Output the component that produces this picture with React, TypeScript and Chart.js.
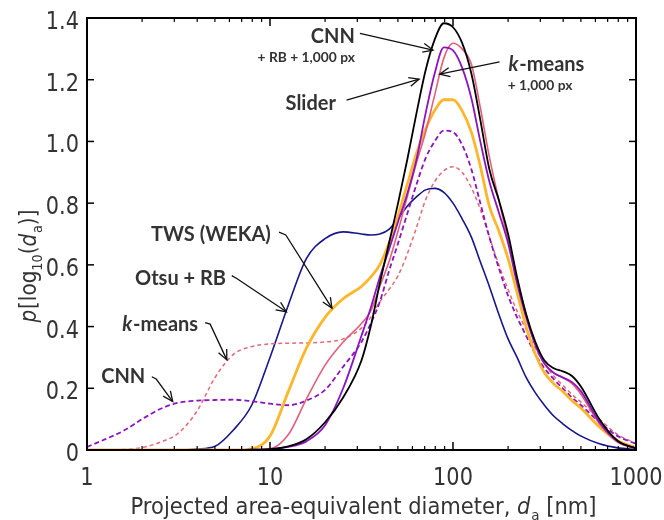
import React, { useEffect, useRef } from 'react';
import { Chart, registerables } from 'chart.js';
Chart.register(...registerables);

// Projected area-equivalent diameter grid [nm]
const diameters = [1, 1.26, 1.58, 2.0, 2.51, 3.16, 3.98, 5.01, 6.31, 7.94, 10, 12.6, 15.8, 20.0, 25.1, 31.6, 35.5, 39.8, 44.7, 50.1, 56.2, 63.1, 70.8, 79.4, 89.1, 100, 112, 126, 141, 158, 178, 200, 224, 251, 282, 316, 355, 398, 447, 501, 631, 794, 1000];

const slider = [0, 0, 0, 0, 0, 0, 0, 0, 0, 0.001, 0.003, 0.012, 0.035, 0.09, 0.17, 0.29, 0.40, 0.54, 0.67, 0.80, 0.94, 1.09, 1.23, 1.33, 1.383, 1.37, 1.32, 1.22, 1.07, 0.91, 0.81, 0.70, 0.56, 0.44, 0.35, 0.29, 0.265, 0.255, 0.24, 0.205, 0.10, 0.03, 0.005];
const cnnRb1000 = [0, 0, 0, 0, 0, 0, 0, 0, 0, 0.001, 0.003, 0.01, 0.028, 0.08, 0.20, 0.37, 0.46, 0.56, 0.65, 0.74, 0.83, 0.94, 1.09, 1.22, 1.305, 1.295, 1.24, 1.14, 1.0, 0.87, 0.77, 0.67, 0.54, 0.43, 0.34, 0.28, 0.25, 0.235, 0.22, 0.19, 0.09, 0.028, 0.005];
const kmeans1000 = [0, 0, 0, 0, 0, 0, 0, 0, 0, 0.001, 0.004, 0.05, 0.165, 0.275, 0.35, 0.41, 0.45, 0.53, 0.61, 0.71, 0.82, 0.93, 1.03, 1.15, 1.27, 1.318, 1.30, 1.25, 1.11, 0.95, 0.81, 0.68, 0.55, 0.44, 0.34, 0.28, 0.25, 0.235, 0.215, 0.18, 0.085, 0.025, 0.006];
const twsWeka = [0, 0, 0, 0, 0, 0, 0, 0, 0, 0.004, 0.045, 0.19, 0.33, 0.43, 0.49, 0.53, 0.56, 0.60, 0.67, 0.76, 0.86, 0.96, 1.04, 1.10, 1.135, 1.135, 1.10, 1.03, 0.92, 0.79, 0.71, 0.62, 0.51, 0.40, 0.31, 0.25, 0.215, 0.19, 0.16, 0.135, 0.075, 0.03, 0.008];
const cnn = [0.01, 0.035, 0.062, 0.10, 0.133, 0.153, 0.16, 0.162, 0.163, 0.158, 0.15, 0.145, 0.16, 0.195, 0.27, 0.35, 0.41, 0.48, 0.58, 0.67, 0.765, 0.86, 0.945, 1.0, 1.035, 1.03, 0.99, 0.91, 0.80, 0.69, 0.59, 0.50, 0.43, 0.37, 0.31, 0.265, 0.23, 0.20, 0.17, 0.145, 0.09, 0.045, 0.02];
const kmeans = [0, 0, 0.002, 0.008, 0.025, 0.055, 0.125, 0.235, 0.31, 0.335, 0.344, 0.346, 0.347, 0.35, 0.36, 0.395, 0.43, 0.48, 0.52, 0.565, 0.635, 0.72, 0.81, 0.87, 0.905, 0.918, 0.90, 0.85, 0.78, 0.69, 0.60, 0.52, 0.45, 0.39, 0.33, 0.28, 0.24, 0.21, 0.18, 0.155, 0.10, 0.05, 0.022];
const otsuRb = [0, 0, 0, 0, 0, 0, 0.003, 0.012, 0.065, 0.145, 0.30, 0.47, 0.62, 0.685, 0.707, 0.70, 0.697, 0.70, 0.715, 0.75, 0.79, 0.82, 0.843, 0.848, 0.835, 0.80, 0.75, 0.69, 0.61, 0.53, 0.44, 0.36, 0.30, 0.235, 0.185, 0.145, 0.11, 0.085, 0.063, 0.045, 0.02, 0.007, 0.002];

const xMajorTicks = [1, 10, 100, 1000];
const xTickLabels = ['1', '10', '100', '1000'];
const xMinorTicks = [2, 3, 4, 5, 6, 7, 8, 9, 20, 30, 40, 50, 60, 70, 80, 90, 200, 300, 400, 500, 600, 700, 800, 900];
const yTicks = [0, 0.2, 0.4, 0.6, 0.8, 1.0, 1.2, 1.4];
const yTickLabels = ['0', '0.2', '0.4', '0.6', '0.8', '1.0', '1.2', '1.4'];

const ANN_FONT = 'Lato, "Open Sans", sans-serif';
const AXIS_FONT = '"DejaVu Sans", sans-serif';
const TEXT = '#333333';
const SQUEEZE = 0.87;

type Seg = { t: string; it?: boolean; sub?: boolean };

// annotation labels in data coordinates (d [nm], p)
const labels: { segs: Seg[]; d: number; p: number; size: number; align: 'left' | 'right' | 'center' }[] = [
  { segs: [{ t: 'CNN' }], d: 29.1, p: 1.319, size: 20, align: 'right' },
  { segs: [{ t: '+ RB + 1,000 px' }], d: 29.1, p: 1.257, size: 13.8, align: 'right' },
  { segs: [{ t: 'Slider' }], d: 16.7, p: 1.102, size: 20, align: 'center' },
  { segs: [{ t: 'k', it: true }, { t: '-means' }], d: 201, p: 1.228, size: 20, align: 'left' },
  { segs: [{ t: '+ 1,000 px' }], d: 199, p: 1.167, size: 13.8, align: 'left' },
  { segs: [{ t: 'TWS (WEKA)' }], d: 10.1, p: 0.677, size: 20, align: 'right' },
  { segs: [{ t: 'Otsu + RB' }], d: 5.75, p: 0.535, size: 20, align: 'right' },
  { segs: [{ t: 'k', it: true }, { t: '-means' }], d: 4.05, p: 0.386, size: 20, align: 'right' },
  { segs: [{ t: 'CNN' }], d: 2.08, p: 0.217, size: 20, align: 'right' },
];

const arrows: [number, number][][] = [
  [[31.0, 1.35], [77.8, 1.296]],
  [[26.2, 1.134], [65.3, 1.202]],
  [[179.8, 1.258], [84.6, 1.218]],
  [[11.2, 0.706], [12.2, 0.697], [21.8, 0.46]],
  [[6.18, 0.565], [6.58, 0.556], [12.3, 0.448]],
  [[4.42, 0.413], [4.71, 0.408], [5.81, 0.292]],
  [[2.26, 0.2375], [2.39, 0.23], [2.94, 0.157]],
];

function fontFor(family: string, size: number, it: boolean, bold: boolean) {
  return `${it ? 'italic ' : ''}${bold ? 'bold ' : ''}${size}px ${family}`;
}

function drawRich(
  ctx: CanvasRenderingContext2D,
  segs: Seg[],
  x: number,
  y: number,
  size: number,
  align: string,
  bold: boolean,
  family: string,
  sx = 1,
  targetWidth = 0
) {
  const subSize = size * 0.64;
  let total = 0;
  const widths = segs.map((s) => {
    ctx.font = fontFor(family, s.sub ? subSize : size, !!s.it, bold);
    const w = ctx.measureText(s.t).width + (s.it ? size * 0.04 : 0);
    total += w;
    return w;
  });
  const scale = targetWidth > 0 ? targetWidth / total : sx;
  const tw = total * scale;
  const start = align === 'left' ? x : align === 'right' ? x - tw : x - tw / 2;
  ctx.save();
  ctx.translate(start, y);
  ctx.scale(scale, 1);
  ctx.textAlign = 'left';
  ctx.textBaseline = 'alphabetic';
  let cx = 0;
  segs.forEach((s, i) => {
    ctx.font = fontFor(family, s.sub ? subSize : size, !!s.it, bold);
    ctx.fillText(s.t, cx, s.sub ? size * 0.27 : 0);
    cx += widths[i];
  });
  ctx.restore();
}

const overlay = {
  id: 'overlay',
  afterDraw(chart: any) {
    const { ctx, chartArea: a, scales } = chart;
    const xs = scales.x;
    const ys = scales.y;
    ctx.save();
    ctx.strokeStyle = '#000';
    ctx.lineWidth = 1.5;
    const line = (x1: number, y1: number, x2: number, y2: number) => {
      ctx.beginPath();
      ctx.moveTo(x1, y1);
      ctx.lineTo(x2, y2);
      ctx.stroke();
    };
    for (const v of yTicks) {
      const y = ys.getPixelForValue(v);
      line(a.left, y, a.left + 7, y);
      line(a.right, y, a.right - 7, y);
    }
    for (const v of xMajorTicks) {
      const x = xs.getPixelForValue(v);
      line(x, a.bottom, x, a.bottom - 8);
      line(x, a.top, x, a.top + 8);
    }
    ctx.lineWidth = 1.2;
    for (const v of xMinorTicks) {
      const x = xs.getPixelForValue(v);
      line(x, a.bottom, x, a.bottom - 4);
      line(x, a.top, x, a.top + 4);
    }
    ctx.lineWidth = 2;
    ctx.strokeRect(a.left, a.top, a.right - a.left, a.bottom - a.top);

    // tick labels
    ctx.fillStyle = TEXT;
    yTicks.forEach((v, i) => {
      drawRich(ctx, [{ t: yTickLabels[i] }], a.left - 8, ys.getPixelForValue(v) + 11, 24, 'right', false, AXIS_FONT, SQUEEZE);
    });
    xMajorTicks.forEach((v, i) => {
      drawRich(ctx, [{ t: xTickLabels[i] }], xs.getPixelForValue(v), a.bottom + 35, 24, 'center', false, AXIS_FONT, SQUEEZE);
    });

    // annotations
    for (const l of labels) {
      drawRich(ctx, l.segs, xs.getPixelForValue(l.d), ys.getPixelForValue(l.p), l.size, l.align, true, ANN_FONT);
    }
    ctx.strokeStyle = '#111';
    ctx.lineWidth = 1.3;
    for (const arr of arrows) {
      const pts = arr.map(([d, p]) => [xs.getPixelForValue(d), ys.getPixelForValue(p)]);
      ctx.beginPath();
      pts.forEach(([x, y], i) => (i === 0 ? ctx.moveTo(x, y) : ctx.lineTo(x, y)));
      ctx.stroke();
      const [x2, y2] = pts[pts.length - 1];
      const [x1, y1] = pts[pts.length - 2];
      const ang = Math.atan2(y2 - y1, x2 - x1);
      const L = 11;
      const spread = 0.42;
      ctx.beginPath();
      ctx.moveTo(x2 - L * Math.cos(ang - spread), y2 - L * Math.sin(ang - spread));
      ctx.lineTo(x2, y2);
      ctx.lineTo(x2 - L * Math.cos(ang + spread), y2 - L * Math.sin(ang + spread));
      ctx.stroke();
    }

    // axis titles
    ctx.fillStyle = TEXT;
    drawRich(
      ctx,
      [{ t: 'Projected area-equivalent diameter, ' }, { t: 'd', it: true }, { t: 'a', sub: true }, { t: ' [nm]' }],
      (a.left + a.right) / 2 + 2, 514, 23, 'center', false, AXIS_FONT, 1, 466
    );
    ctx.save();
    ctx.translate(36, 266);
    ctx.rotate(-Math.PI / 2);
    drawRich(
      ctx,
      [{ t: 'p', it: true }, { t: '[log' }, { t: '10', sub: true }, { t: '(' }, { t: 'd', it: true }, { t: 'a', sub: true }, { t: ')]' }],
      0, 0, 23, 'center', false, AXIS_FONT, SQUEEZE
    );
    ctx.restore();
    ctx.restore();
  },
};

function series(label: string, values: number[], color: string, width: number, dash: number[] = []) {
  return {
    label,
    data: diameters.map((d, i) => ({ x: d, y: values[i] })),
    borderColor: color,
    backgroundColor: color,
    borderWidth: width,
    borderDash: dash,
    showLine: true,
    pointRadius: 0,
    fill: false,
    cubicInterpolationMode: 'monotone' as const,
  };
}

export default function App() {
  const ref = useRef<HTMLCanvasElement>(null);
  useEffect(() => {
    if (!ref.current) return;
    const chart = new Chart(ref.current, {
      type: 'scatter',
      data: {
        datasets: [
          series('Slider', slider, '#000000', 1.8),
          series('CNN + RB + 1,000 px', cnnRb1000, '#8C14C0', 1.8),
          series('k-means + 1,000 px', kmeans1000, '#E0607A', 1.6),
          series('TWS (WEKA)', twsWeka, '#FFB62B', 2.8),
          series('CNN', cnn, '#8C14C0', 1.8, [5, 3]),
          series('k-means', kmeans, '#E26A78', 1.5, [4, 3]),
          series('Otsu + RB', otsuRb, '#16168C', 1.6),
        ] as any,
      },
      options: {
        animation: false,
        responsive: false,
        layout: { padding: { top: 18, right: 28, left: 0, bottom: 0 } },
        plugins: { legend: { display: false }, tooltip: { enabled: false } },
        scales: {
          x: {
            type: 'logarithmic',
            min: 1,
            max: 1000,
            grid: { display: false, drawTicks: false },
            border: { display: false },
            ticks: { display: false },
            afterFit: (s: any) => {
              s.height = 70;
            },
          },
          y: {
            min: 0,
            max: 1.4,
            grid: { display: false, drawTicks: false },
            border: { display: false },
            ticks: { display: false, stepSize: 0.2 },
            afterFit: (s: any) => {
              s.width = 87;
            },
          },
        },
      },
      plugins: [overlay],
    });
    return () => chart.destroy();
  }, []);
  return (
    <div style={{ position: 'fixed', left: 0, top: 0, width: 664, height: 520, background: '#fff' }}>
      <canvas ref={ref} width={664} height={520} style={{ width: 664, height: 520 }} />
    </div>
  );
}
